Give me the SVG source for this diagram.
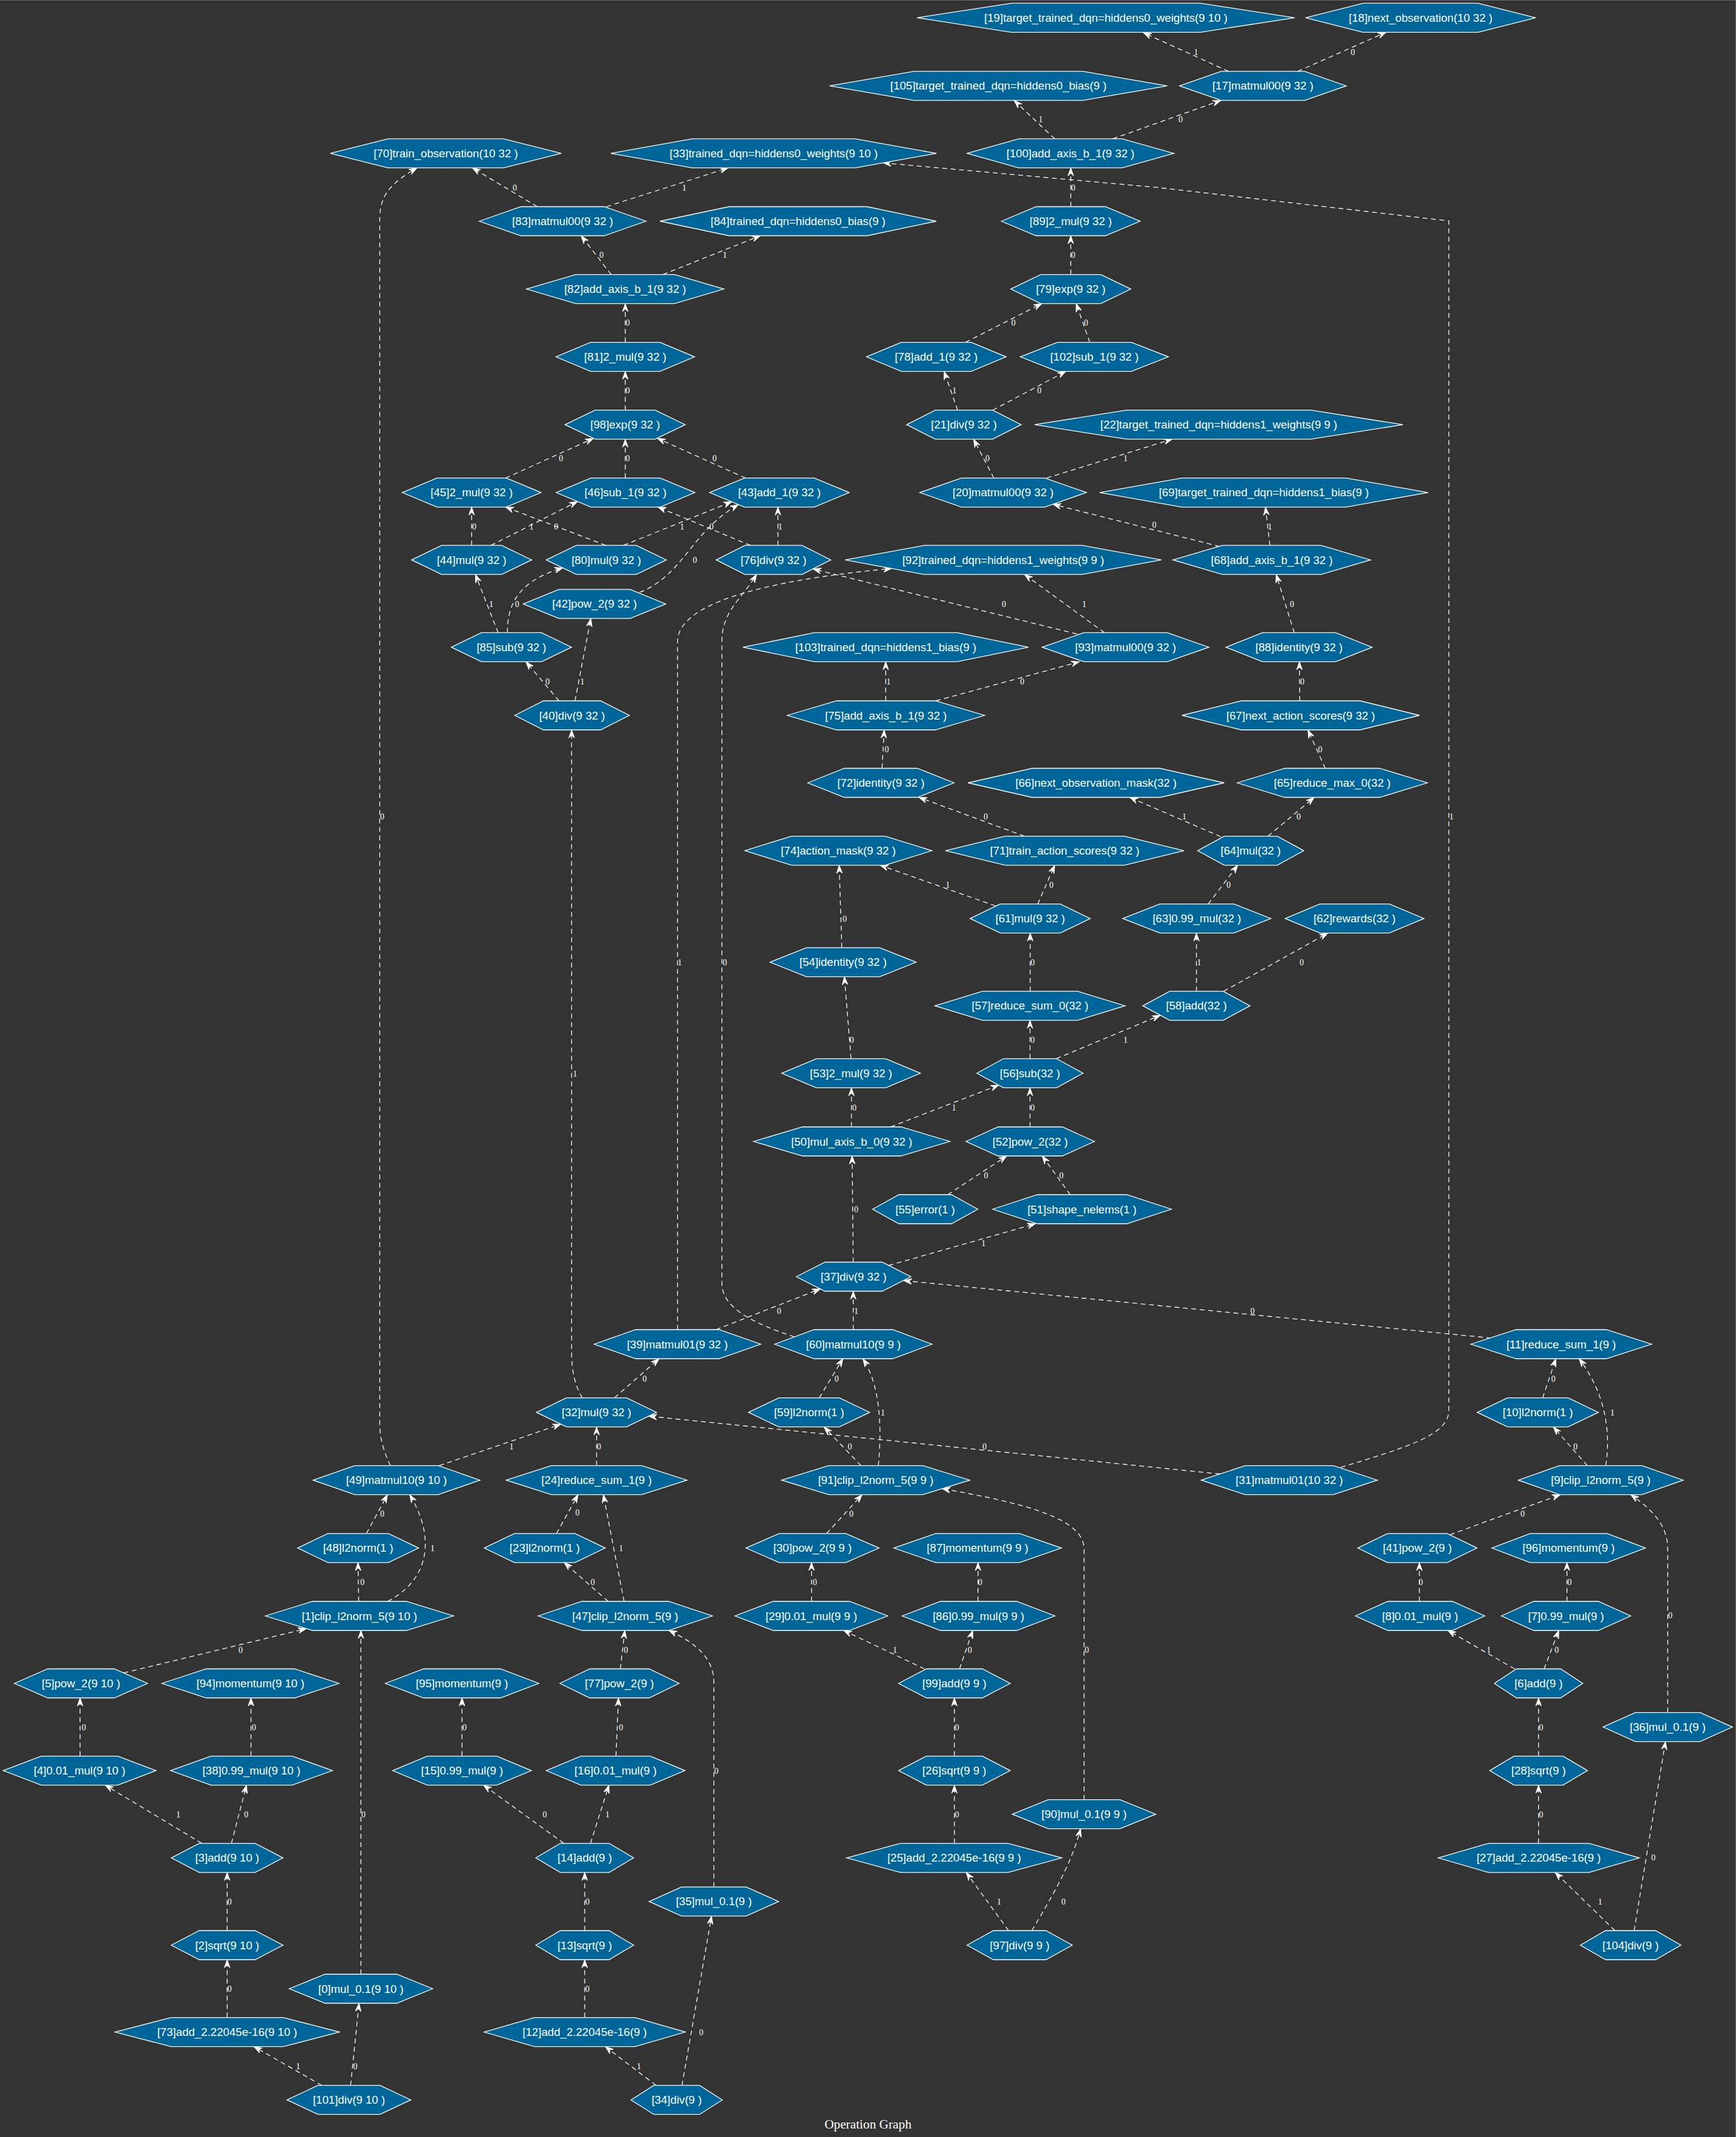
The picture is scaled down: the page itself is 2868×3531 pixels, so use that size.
<svg xmlns="http://www.w3.org/2000/svg" width="2868" height="3531" viewBox="0 0 2868 3531">
<style>
.n polygon{fill:#006699;stroke:#ffffff;stroke-width:1.3}
.n text{fill:#ffffff;font-family:"Liberation Sans",Arial,sans-serif;font-size:18.67px;text-anchor:middle}
.e path{fill:none;stroke:#ffffff;stroke-width:1.3;stroke-dasharray:8,6;marker-end:url(#a)}
.e text{fill:#ffffff;font-family:"Liberation Serif","Times New Roman",serif;font-size:14px;text-anchor:middle}
.t{fill:#ffffff;font-family:"Liberation Serif","Times New Roman",serif;font-size:21.3px;text-anchor:middle}
</style>
<defs>
<marker id="a" markerUnits="userSpaceOnUse" markerWidth="16" markerHeight="12" viewBox="-15 -6 16 12" refX="0" refY="0" orient="auto">
<path d="M0,0 L-13.3,-4.7 L-8.9,0 L-13.3,4.7 Z" fill="#ffffff" stroke="#ffffff" stroke-width="1" stroke-dasharray="none"/>
</marker>
</defs>
<rect x="0" y="0" width="2868" height="3531" fill="#333333"/>
<path d="M0,0.5 H2867.5 V3531" fill="none" stroke="#6a6a6a" stroke-width="1"/>
<g id="edges" class="e">
<path d="M2029.7,117.9 L1888.8,54"/><text x="1976" y="90.6">1</text>
<path d="M2143.7,117.9 L2290,53.3"/><text x="2235.1" y="90.6">0</text>
<path d="M1838.2,229.4 L2016.9,165.9"/><text x="1950.4" y="202.1">0</text>
<path d="M1742.5,229.4 L1675.4,165.9"/><text x="1719.3" y="202.1">1</text>
<path d="M1769,341.5 L1769,277.4"/><text x="1773" y="314.7">0</text>
<path d="M1769,453.6 L1769,389.5"/><text x="1773" y="426.2">0</text>
<path d="M1595,565.6 L1721.2,501.6"/><text x="1674.2" y="538.3">0</text>
<path d="M1800.4,565.6 L1777.9,501.6"/><text x="1794.3" y="538.3">0</text>
<path d="M1640,677.7 L1760.8,613.6"/><text x="1716.9" y="650.4">0</text>
<path d="M1582.1,677.7 L1559.6,613.6"/><text x="1576.7" y="650.4">1</text>
<path d="M1641.9,789.8 L1608.4,725.7"/><text x="1631.5" y="762.4">0</text>
<path d="M1729.1,789.8 L1936.4,725.7"/><text x="1859.6" y="762.4">1</text>
<path d="M2015,903 L1739.4,833.2"/><text x="1907" y="872.3">0</text>
<path d="M2098,901.2 L2090.6,837.8"/><text x="2098" y="875">1</text>
<path d="M2138.2,1045.4 L2108.3,949.2"/><text x="2134.5" y="1002.9">0</text>
<path d="M2147.3,1158 L2146.7,1093.4"/><text x="2151.6" y="1130.7">0</text>
<path d="M2189.4,1269.5 L2160.7,1206"/><text x="2180.9" y="1242.8">0</text>
<path d="M2094.9,1381.6 L2171.1,1317.5"/><text x="2145.5" y="1354.3">0</text>
<path d="M2016.9,1382.5 L1866.3,1317.5"/><text x="1956.5" y="1354.3">1</text>
<path d="M1996.1,1493.7 L2044.9,1429.6"/><text x="2029.7" y="1466.9">0</text>
<path d="M2021.7,1637.9 L2193.7,1541.7"/><text x="2150.4" y="1594.8">0</text>
<path d="M1976.6,1637.9 L1976.6,1541.7"/><text x="1980.9" y="1594.8">1</text>
<path d="M1701.6,1749.3 L1701.6,1685.9"/><text x="1705.9" y="1722.6">0</text>
<path d="M1745,1749.3 L1917,1677.6"/><text x="1859.6" y="1722.6">1</text>
<path d="M1702,1637.9 L1702,1541.7"/><text x="1705.9" y="1594.8">0</text>
<path d="M1714.4,1493.7 L1742.5,1429.6"/><text x="1737" y="1466.9">0</text>
<path d="M1644.9,1497 L1454.1,1429.6"/><text x="1565.7" y="1466.9">1</text>
<path d="M1692.5,1381.6 L1518.1,1317.5"/><text x="1628.5" y="1354.3">0</text>
<path d="M1457.2,1269.5 L1460.8,1206"/><text x="1465.1" y="1242.8">0</text>
<path d="M1546.2,1158 L1783.3,1093.4"/><text x="1688.8" y="1130.7">0</text>
<path d="M1463.3,1158 L1463.3,1093.4"/><text x="1468.1" y="1130.7">1</text>
<path d="M1779,1047.5 L1343.1,940.1"/><text x="1658.4" y="1002.9">0</text>
<path d="M1824.8,1045.4 L1692.5,949.2"/><text x="1791.3" y="1002.9">1</text>
<path d="M1240,901.2 L1087,837.8"/><text x="1175.5" y="875.1">0</text>
<path d="M1285.2,901.2 L1285.2,837.8"/><text x="1289" y="875.1">1</text>
<path d="M1033,789.8 L1033,725.7"/><text x="1037.1" y="762.4">0</text>
<path d="M1231.6,789.8 L1086,724.2"/><text x="1180.4" y="762.4">0</text>
<path d="M1033,677.7 L1033,613.6"/><text x="1037" y="650.4">0</text>
<path d="M1033,565.6 L1033,501.6"/><text x="1037" y="538.3">0</text>
<path d="M1009.7,453.6 L960,389.5"/><text x="993.8" y="426.2">0</text>
<path d="M1095,453.6 L1256,389.5"/><text x="1197.4" y="426.2">1</text>
<path d="M887.7,341.5 L780.4,277.4"/><text x="850.5" y="314.7">0</text>
<path d="M1001.7,341.5 L1202.9,277.4"/><text x="1130.4" y="314.7">1</text>
<path d="M1701.6,1862 L1701.6,1797.3"/><text x="1705.9" y="1834.6">0</text>
<path d="M1565.7,1974 L1663.2,1910"/><text x="1629.1" y="1947.3">0</text>
<path d="M1768.1,1974 L1721.8,1910"/><text x="1753.5" y="1947.3">0</text>
<path d="M1406.6,1862 L1406.6,1797.3"/><text x="1411.4" y="1834.6">0</text>
<path d="M1471.2,1862 L1650,1793"/><text x="1576" y="1834.6">1</text>
<path d="M1406,1749.3 L1395,1613.8"/><text x="1407.2" y="1722.6">0</text>
<path d="M1390.7,1565.8 L1386.4,1429.6"/><text x="1395.6" y="1523.2">0</text>
<path d="M1409.6,2085.5 L1407.8,1910"/><text x="1414.5" y="2003">0</text>
<path d="M1468.1,2091 L1710.8,2022"/><text x="1624.8" y="2058.8">1</text>
<path d="M1312.7,2209 C1240,2185 1192.6,2160 1192.6,2120 L1192.6,1060 C1192.6,1010 1225,990 1249.9,949.2"/><text x="1197.4" y="1594.8">0</text>
<path d="M1409.6,2197 L1409.6,2133.5"/><text x="1414.5" y="2170.8">1</text>
<path d="M1182.8,2197 L1355.3,2129.6"/><text x="1287" y="2170.8">0</text>
<path d="M1119.4,2197 L1119.4,1060 C1119.4,1000 1250,960 1473,939.3"/><text x="1123" y="1594.8">1</text>
<path d="M2463.8,2210.9 L1493,2116"/><text x="2069.3" y="2170.8">0</text>
<path d="M1015.1,2309.7 L1088.9,2245"/><text x="1065.1" y="2282.9">0</text>
<path d="M962,2309.7 C950,2290 944.4,2265 944.4,2235 L944.4,1206"/><text x="950" y="1779">1</text>
<path d="M923.6,1158 L868.8,1093.4"/><text x="904.8" y="1130.7">0</text>
<path d="M949.9,1158 L976.1,1021.9"/><text x="962" y="1130.7">1</text>
<path d="M838.3,1045.4 C838,1000 855,960 929.8,938.4"/><text x="854.2" y="1002.9">0</text>
<path d="M823,1045.4 L785.3,949.2"/><text x="811.5" y="1002.9">1</text>
<path d="M1056.6,978.7 C1130,950 1140,880 1220,833.7"/><text x="1148" y="930.2">0</text>
<path d="M779.2,901.2 L779.2,837.8"/><text x="783.4" y="875.1">0</text>
<path d="M811,901.2 L954,828.6"/><text x="878" y="875.1">1</text>
<path d="M1001,901.2 L835.3,837.8"/><text x="918.8" y="875.1">0</text>
<path d="M1030,901.2 L1209,829"/><text x="1126.7" y="875.1">1</text>
<path d="M835.3,789.8 L980.4,724.3"/><text x="926.7" y="762.4">0</text>
<path d="M985.6,2421.7 L985.6,2357.7"/><text x="989.5" y="2395">0</text>
<path d="M645,2421.7 C630,2390 627.4,2370 627.4,2350 L627.4,360 C627.4,320 650,300 688.9,277.4"/><text x="631.6" y="1354.3">0</text>
<path d="M725.5,2421.7 L926.7,2353.2"/><text x="845" y="2395">1</text>
<path d="M2015.6,2435.5 L1071.8,2340"/><text x="1626.6" y="2395">0</text>
<path d="M2215,2424.5 C2330,2390 2393.6,2370 2393.6,2330 L2393.6,365 L1912,309.7 L1459,269.1"/><text x="2397.9" y="1354.3">1</text>
<path d="M1353.5,2309.7 L1392.5,2245"/><text x="1382.2" y="2282.9">0</text>
<path d="M1422.4,2421.7 L1361.4,2357.7"/><text x="1404.1" y="2395">0</text>
<path d="M1451,2421.7 C1457,2360 1455,2290 1425.5,2245"/><text x="1458.4" y="2338.7">1</text>
<path d="M2548.5,2309.7 L2570.5,2245"/><text x="2566.2" y="2282.9">0</text>
<path d="M2622.3,2421.7 L2566.2,2357.7"/><text x="2602.8" y="2395">0</text>
<path d="M2652.8,2421.7 C2662,2360 2650,2300 2608.9,2245"/><text x="2663.7" y="2338.7">1</text>
<path d="M919.4,2533.8 L955,2469.7"/><text x="954" y="2504">0</text>
<path d="M1004.8,2646 L932,2581.8"/><text x="979.2" y="2618.6">0</text>
<path d="M1031,2646 L996.8,2469.7"/><text x="1026.1" y="2562.8">1</text>
<path d="M605.4,2533.8 L640.2,2469.7"/><text x="631.6" y="2506">0</text>
<path d="M592.6,2646 L591.4,2581.8"/><text x="598.7" y="2618.6">0</text>
<path d="M640.2,2646 C710,2610 720,2540 676.7,2469.7"/><text x="714.5" y="2562.8">1</text>
<path d="M1365.7,2533.8 L1424.2,2469.7"/><text x="1406.6" y="2506">0</text>
<path d="M1791,2973.7 L1791,2560 C1791,2510 1700,2485 1556.5,2459.8"/><text x="1795.5" y="2730.7">0</text>
<path d="M1340.7,2646 L1340.7,2581.8"/><text x="1346.2" y="2618.6">0</text>
<path d="M1585.2,2757.5 L1607.1,2694"/><text x="1602.3" y="2730.7">0</text>
<path d="M1527.3,2757.5 L1393.7,2694"/><text x="1478.5" y="2730.7">1</text>
<path d="M1615.7,2646 L1615.7,2581.8"/><text x="1619.3" y="2618.6">0</text>
<path d="M1576.7,2901.6 L1576.7,2805.5"/><text x="1580.9" y="2858.6">0</text>
<path d="M1576.7,3045.8 L1576.7,2949.6"/><text x="1580.9" y="3002.7">0</text>
<path d="M1704.7,3190 C1740,3130 1770,3080 1785.2,3021.7"/><text x="1757.1" y="3146.9">0</text>
<path d="M1666.3,3190 L1596.2,3093.8"/><text x="1650.4" y="3146.9">1</text>
<path d="M2395.5,2535.8 L2577.8,2469.7"/><text x="2515.6" y="2506">0</text>
<path d="M2755.2,2829.6 L2755.2,2560 C2755.2,2520 2730,2495 2694.2,2469.7"/><text x="2759.5" y="2674.4">0</text>
<path d="M2344.9,2646 L2344.9,2581.8"/><text x="2347.3" y="2618.6">0</text>
<path d="M2588.7,2646 L2588.7,2581.8"/><text x="2593" y="2618.6">0</text>
<path d="M2551,2757.5 L2575.3,2694"/><text x="2571.7" y="2730.7">0</text>
<path d="M2502.2,2757.5 L2391.8,2694"/><text x="2459.5" y="2730.7">1</text>
<path d="M2541.8,2901.6 L2541.8,2805.5"/><text x="2546" y="2858.6">0</text>
<path d="M2541.8,3045.8 L2541.8,2949.6"/><text x="2546" y="3002.7">0</text>
<path d="M2699.7,3190 L2751.5,2877.6"/><text x="2731.4" y="3074.2">0</text>
<path d="M2668,3190 L2569.2,3093.8"/><text x="2643.6" y="3146.9">1</text>
<path d="M204.2,2764.2 L506,2691"/><text x="397.5" y="2730.7">0</text>
<path d="M596.3,3262 L596.3,2694"/><text x="600.5" y="3002.7">0</text>
<path d="M132.3,2901.6 L132.3,2805.5"/><text x="138.4" y="2858.6">0</text>
<path d="M414.6,2901.6 L414.6,2805.5"/><text x="419.5" y="2858.6">0</text>
<path d="M382.3,3045.8 L407.3,2949.6"/><text x="406.7" y="3002.7">0</text>
<path d="M333.5,3045.8 L173.8,2949.6"/><text x="294.5" y="3002.7">1</text>
<path d="M375.3,3190 L375.3,3093.8"/><text x="379.2" y="3146.9">0</text>
<path d="M375.3,3333.6 L375.3,3238"/><text x="379.2" y="3291">0</text>
<path d="M579.2,3445.7 L593.2,3310"/><text x="587.1" y="3418.9">0</text>
<path d="M531.6,3445.7 L419.5,3381.6"/><text x="492.6" y="3418.9">1</text>
<path d="M1024.9,2757.5 L1032.2,2694"/><text x="1034" y="2730.7">0</text>
<path d="M1179.4,3117.9 L1179.4,2780 C1179.4,2740 1150,2715 1105,2694"/><text x="1183.4" y="2930.6">0</text>
<path d="M1017.6,2901.6 L1021.8,2805.5"/><text x="1026.1" y="2858.6">0</text>
<path d="M763.3,2901.6 L763.3,2805.5"/><text x="767.6" y="2858.6">0</text>
<path d="M931.6,3045.8 L798.7,2949.6"/><text x="899.9" y="3002.7">0</text>
<path d="M975.5,3045.8 L1006,2949.6"/><text x="1003.6" y="3002.7">1</text>
<path d="M966,3190 L966,3093.8"/><text x="970.6" y="3146.9">0</text>
<path d="M966,3333.6 L966,3238"/><text x="970.6" y="3291">0</text>
<path d="M1126.7,3445.7 L1175.5,3165.9"/><text x="1158.4" y="3362.6">0</text>
<path d="M1084,3445.7 L999.9,3381.6"/><text x="1055.4" y="3418.9">1</text>
</g>
<g id="n19" class="n" transform="translate(1827,29.3)"><polygon points="-312.1,0 -156,-24 156,-24 312.1,0 156,24 -156,24"/><text y="6.5">[19]target_trained_dqn=hiddens0_weights(9 10 )</text></g>
<g id="n18" class="n" transform="translate(2347,29.3)"><polygon points="-190.1,0 -95,-24 95,-24 190.1,0 95,24 -95,24"/><text y="6.5">[18]next_observation(10 32 )</text></g>
<g id="n105" class="n" transform="translate(1649.5,141.9)"><polygon points="-279,0 -139.5,-24 139.5,-24 279,0 139.5,24 -139.5,24"/><text y="6.5">[105]target_trained_dqn=hiddens0_bias(9 )</text></g>
<g id="n17" class="n" transform="translate(2086.4,141.9)"><polygon points="-137.7,0 -68.9,-24 68.9,-24 137.7,0 68.9,24 -68.9,24"/><text y="6.5">[17]matmul00(9 32 )</text></g>
<g id="n70" class="n" transform="translate(736.5,253.4)"><polygon points="-190.8,0 -95.4,-24 95.4,-24 190.8,0 95.4,24 -95.4,24"/><text y="6.5">[70]train_observation(10 32 )</text></g>
<g id="n33" class="n" transform="translate(1278.2,253.4)"><polygon points="-269,0 -134.5,-24 134.5,-24 269,0 134.5,24 -134.5,24"/><text y="6.5">[33]trained_dqn=hiddens0_weights(9 10 )</text></g>
<g id="n100" class="n" transform="translate(1768.5,253.4)"><polygon points="-170.8,0 -85.4,-24 85.4,-24 170.8,0 85.4,24 -85.4,24"/><text y="6.5">[100]add_axis_b_1(9 32 )</text></g>
<g id="n83" class="n" transform="translate(929.5,365.5)"><polygon points="-137.7,0 -68.9,-24 68.9,-24 137.7,0 68.9,24 -68.9,24"/><text y="6.5">[83]matmul00(9 32 )</text></g>
<g id="n84" class="n" transform="translate(1318.5,365.5)"><polygon points="-228.2,0 -114.1,-24 114.1,-24 228.2,0 114.1,24 -114.1,24"/><text y="6.5">[84]trained_dqn=hiddens0_bias(9 )</text></g>
<g id="n89" class="n" transform="translate(1769,365.5)"><polygon points="-114.6,0 -57.3,-24 57.3,-24 114.6,0 57.3,24 -57.3,24"/><text y="6.5">[89]2_mul(9 32 )</text></g>
<g id="n82" class="n" transform="translate(1032.8,477.6)"><polygon points="-163.1,0 -81.6,-24 81.6,-24 163.1,0 81.6,24 -81.6,24"/><text y="6.5">[82]add_axis_b_1(9 32 )</text></g>
<g id="n79" class="n" transform="translate(1769,477.6)"><polygon points="-99.2,0 -49.6,-24 49.6,-24 99.2,0 49.6,24 -49.6,24"/><text y="6.5">[79]exp(9 32 )</text></g>
<g id="n81" class="n" transform="translate(1033,589.6)"><polygon points="-114.6,0 -57.3,-24 57.3,-24 114.6,0 57.3,24 -57.3,24"/><text y="6.5">[81]2_mul(9 32 )</text></g>
<g id="n78" class="n" transform="translate(1546.8,589.6)"><polygon points="-115.4,0 -57.7,-24 57.7,-24 115.4,0 57.7,24 -57.7,24"/><text y="6.5">[78]add_1(9 32 )</text></g>
<g id="n102" class="n" transform="translate(1808,589.6)"><polygon points="-122.3,0 -61.2,-24 61.2,-24 122.3,0 61.2,24 -61.2,24"/><text y="6.5">[102]sub_1(9 32 )</text></g>
<g id="n98" class="n" transform="translate(1032.8,701.7)"><polygon points="-99.2,0 -49.6,-24 49.6,-24 99.2,0 49.6,24 -49.6,24"/><text y="6.5">[98]exp(9 32 )</text></g>
<g id="n21" class="n" transform="translate(1592.5,701.7)"><polygon points="-94.6,0 -47.3,-24 47.3,-24 94.6,0 47.3,24 -47.3,24"/><text y="6.5">[21]div(9 32 )</text></g>
<g id="n22" class="n" transform="translate(2013.5,701.7)"><polygon points="-304.3,0 -152.2,-24 152.2,-24 304.3,0 152.2,24 -152.2,24"/><text y="6.5">[22]target_trained_dqn=hiddens1_weights(9 9 )</text></g>
<g id="n45" class="n" transform="translate(779.2,813.8)"><polygon points="-114.6,0 -57.3,-24 57.3,-24 114.6,0 57.3,24 -57.3,24"/><text y="6.5">[45]2_mul(9 32 )</text></g>
<g id="n46" class="n" transform="translate(1033.4,813.8)"><polygon points="-114.6,0 -57.3,-24 57.3,-24 114.6,0 57.3,24 -57.3,24"/><text y="6.5">[46]sub_1(9 32 )</text></g>
<g id="n43" class="n" transform="translate(1287.6,813.8)"><polygon points="-115.4,0 -57.7,-24 57.7,-24 115.4,0 57.7,24 -57.7,24"/><text y="6.5">[43]add_1(9 32 )</text></g>
<g id="n20" class="n" transform="translate(1657.2,813.8)"><polygon points="-137.7,0 -68.9,-24 68.9,-24 137.7,0 68.9,24 -68.9,24"/><text y="6.5">[20]matmul00(9 32 )</text></g>
<g id="n69" class="n" transform="translate(2088,813.8)"><polygon points="-271.3,0 -135.6,-24 135.6,-24 271.3,0 135.6,24 -135.6,24"/><text y="6.5">[69]target_trained_dqn=hiddens1_bias(9 )</text></g>
<g id="n44" class="n" transform="translate(779.2,925.2)"><polygon points="-99.2,0 -49.6,-24 49.6,-24 99.2,0 49.6,24 -49.6,24"/><text y="6.5">[44]mul(9 32 )</text></g>
<g id="n80" class="n" transform="translate(1001.7,925.2)"><polygon points="-99.2,0 -49.6,-24 49.6,-24 99.2,0 49.6,24 -49.6,24"/><text y="6.5">[80]mul(9 32 )</text></g>
<g id="n76" class="n" transform="translate(1277.9,925.2)"><polygon points="-94.6,0 -47.3,-24 47.3,-24 94.6,0 47.3,24 -47.3,24"/><text y="6.5">[76]div(9 32 )</text></g>
<g id="n92" class="n" transform="translate(1657.4,925.2)"><polygon points="-261.2,0 -130.6,-24 130.6,-24 261.2,0 130.6,24 -130.6,24"/><text y="6.5">[92]trained_dqn=hiddens1_weights(9 9 )</text></g>
<g id="n68" class="n" transform="translate(2101,925.2)"><polygon points="-163.1,0 -81.6,-24 81.6,-24 163.1,0 81.6,24 -81.6,24"/><text y="6.5">[68]add_axis_b_1(9 32 )</text></g>
<g id="n42" class="n" transform="translate(982.2,997.9)"><polygon points="-117.7,0 -58.9,-24 58.9,-24 117.7,0 58.9,24 -58.9,24"/><text y="6.5">[42]pow_2(9 32 )</text></g>
<g id="n85" class="n" transform="translate(845,1069.4)"><polygon points="-99.2,0 -49.6,-24 49.6,-24 99.2,0 49.6,24 -49.6,24"/><text y="6.5">[85]sub(9 32 )</text></g>
<g id="n103" class="n" transform="translate(1463.3,1069.4)"><polygon points="-235.9,0 -117.9,-24 117.9,-24 235.9,0 117.9,24 -117.9,24"/><text y="6.5">[103]trained_dqn=hiddens1_bias(9 )</text></g>
<g id="n93" class="n" transform="translate(1859.5,1069.4)"><polygon points="-137.7,0 -68.9,-24 68.9,-24 137.7,0 68.9,24 -68.9,24"/><text y="6.5">[93]matmul00(9 32 )</text></g>
<g id="n88" class="n" transform="translate(2146.1,1069.4)"><polygon points="-120.8,0 -60.4,-24 60.4,-24 120.8,0 60.4,24 -60.4,24"/><text y="6.5">[88]identity(9 32 )</text></g>
<g id="n40" class="n" transform="translate(945.1,1182)"><polygon points="-94.6,0 -47.3,-24 47.3,-24 94.6,0 47.3,24 -47.3,24"/><text y="6.5">[40]div(9 32 )</text></g>
<g id="n75" class="n" transform="translate(1463.6,1182)"><polygon points="-163.1,0 -81.6,-24 81.6,-24 163.1,0 81.6,24 -81.6,24"/><text y="6.5">[75]add_axis_b_1(9 32 )</text></g>
<g id="n67" class="n" transform="translate(2148.9,1182)"><polygon points="-196.2,0 -98.1,-24 98.1,-24 196.2,0 98.1,24 -98.1,24"/><text y="6.5">[67]next_action_scores(9 32 )</text></g>
<g id="n72" class="n" transform="translate(1455.3,1293.5)"><polygon points="-120.8,0 -60.4,-24 60.4,-24 120.8,0 60.4,24 -60.4,24"/><text y="6.5">[72]identity(9 32 )</text></g>
<g id="n66" class="n" transform="translate(1810.8,1293.5)"><polygon points="-211.6,0 -105.8,-24 105.8,-24 211.6,0 105.8,24 -105.8,24"/><text y="6.5">[66]next_observation_mask(32 )</text></g>
<g id="n65" class="n" transform="translate(2201,1293.5)"><polygon points="-157,0 -78.5,-24 78.5,-24 157,0 78.5,24 -78.5,24"/><text y="6.5">[65]reduce_max_0(32 )</text></g>
<g id="n74" class="n" transform="translate(1385,1405.6)"><polygon points="-154.6,0 -77.3,-24 77.3,-24 154.6,0 77.3,24 -77.3,24"/><text y="6.5">[74]action_mask(9 32 )</text></g>
<g id="n71" class="n" transform="translate(1759,1405.6)"><polygon points="-197,0 -98.5,-24 98.5,-24 197,0 98.5,24 -98.5,24"/><text y="6.5">[71]train_action_scores(9 32 )</text></g>
<g id="n64" class="n" transform="translate(2066.3,1405.6)"><polygon points="-87.7,0 -43.8,-24 43.8,-24 87.7,0 43.8,24 -43.8,24"/><text y="6.5">[64]mul(32 )</text></g>
<g id="n61" class="n" transform="translate(1702,1517.7)"><polygon points="-99.2,0 -49.6,-24 49.6,-24 99.2,0 49.6,24 -49.6,24"/><text y="6.5">[61]mul(9 32 )</text></g>
<g id="n63" class="n" transform="translate(1977.3,1517.7)"><polygon points="-122.3,0 -61.2,-24 61.2,-24 122.3,0 61.2,24 -61.2,24"/><text y="6.5">[63]0.99_mul(32 )</text></g>
<g id="n62" class="n" transform="translate(2237.9,1517.7)"><polygon points="-114.6,0 -57.3,-24 57.3,-24 114.6,0 57.3,24 -57.3,24"/><text y="6.5">[62]rewards(32 )</text></g>
<g id="n54" class="n" transform="translate(1392.8,1589.8)"><polygon points="-120.8,0 -60.4,-24 60.4,-24 120.8,0 60.4,24 -60.4,24"/><text y="6.5">[54]identity(9 32 )</text></g>
<g id="n57" class="n" transform="translate(1701.7,1661.9)"><polygon points="-157,0 -78.5,-24 78.5,-24 157,0 78.5,24 -78.5,24"/><text y="6.5">[57]reduce_sum_0(32 )</text></g>
<g id="n58" class="n" transform="translate(1976.6,1661.9)"><polygon points="-88.5,0 -44.2,-24 44.2,-24 88.5,0 44.2,24 -44.2,24"/><text y="6.5">[58]add(32 )</text></g>
<g id="n53" class="n" transform="translate(1406,1773.3)"><polygon points="-114.6,0 -57.3,-24 57.3,-24 114.6,0 57.3,24 -57.3,24"/><text y="6.5">[53]2_mul(9 32 )</text></g>
<g id="n56" class="n" transform="translate(1701.6,1773.3)"><polygon points="-87.7,0 -43.9,-24 43.9,-24 87.7,0 43.9,24 -43.9,24"/><text y="6.5">[56]sub(32 )</text></g>
<g id="n50" class="n" transform="translate(1407.1,1886)"><polygon points="-162.3,0 -81.2,-24 81.2,-24 162.3,0 81.2,24 -81.2,24"/><text y="6.5">[50]mul_axis_b_0(9 32 )</text></g>
<g id="n52" class="n" transform="translate(1702,1886)"><polygon points="-106.2,0 -53.1,-24 53.1,-24 106.2,0 53.1,24 -53.1,24"/><text y="6.5">[52]pow_2(32 )</text></g>
<g id="n55" class="n" transform="translate(1528.5,1998)"><polygon points="-86.9,0 -43.5,-24 43.5,-24 86.9,0 43.5,24 -43.5,24"/><text y="6.5">[55]error(1 )</text></g>
<g id="n51" class="n" transform="translate(1787.6,1998)"><polygon points="-147.7,0 -73.9,-24 73.9,-24 147.7,0 73.9,24 -73.9,24"/><text y="6.5">[51]shape_nelems(1 )</text></g>
<g id="n37" class="n" transform="translate(1410.2,2109.5)"><polygon points="-94.6,0 -47.3,-24 47.3,-24 94.6,0 47.3,24 -47.3,24"/><text y="6.5">[37]div(9 32 )</text></g>
<g id="n39" class="n" transform="translate(1119.1,2221)"><polygon points="-137.7,0 -68.9,-24 68.9,-24 137.7,0 68.9,24 -68.9,24"/><text y="6.5">[39]matmul01(9 32 )</text></g>
<g id="n60" class="n" transform="translate(1409.9,2221)"><polygon points="-130,0 -65,-24 65,-24 130,0 65,24 -65,24"/><text y="6.5">[60]matmul10(9 9 )</text></g>
<g id="n11" class="n" transform="translate(2579.2,2221)"><polygon points="-149.3,0 -74.6,-24 74.6,-24 149.3,0 74.6,24 -74.6,24"/><text y="6.5">[11]reduce_sum_1(9 )</text></g>
<g id="n32" class="n" transform="translate(985.5,2333.7)"><polygon points="-99.2,0 -49.6,-24 49.6,-24 99.2,0 49.6,24 -49.6,24"/><text y="6.5">[32]mul(9 32 )</text></g>
<g id="n59" class="n" transform="translate(1336.7,2333.7)"><polygon points="-100,0 -50,-24 50,-24 100,0 50,24 -50,24"/><text y="6.5">[59]l2norm(1 )</text></g>
<g id="n10" class="n" transform="translate(2540.6,2333.7)"><polygon points="-100,0 -50,-24 50,-24 100,0 50,24 -50,24"/><text y="6.5">[10]l2norm(1 )</text></g>
<g id="n49" class="n" transform="translate(655.1,2445.7)"><polygon points="-137.7,0 -68.9,-24 68.9,-24 137.7,0 68.9,24 -68.9,24"/><text y="6.5">[49]matmul10(9 10 )</text></g>
<g id="n24" class="n" transform="translate(985.6,2445.7)"><polygon points="-149.3,0 -74.6,-24 74.6,-24 149.3,0 74.6,24 -74.6,24"/><text y="6.5">[24]reduce_sum_1(9 )</text></g>
<g id="n91" class="n" transform="translate(1446.8,2445.7)"><polygon points="-155.4,0 -77.7,-24 77.7,-24 155.4,0 77.7,24 -77.7,24"/><text y="6.5">[91]clip_l2norm_5(9 9 )</text></g>
<g id="n9" class="n" transform="translate(2644.6,2445.7)"><polygon points="-136.2,0 -68.1,-24 68.1,-24 136.2,0 68.1,24 -68.1,24"/><text y="6.5">[9]clip_l2norm_5(9 )</text></g>
<g id="n31" class="n" transform="translate(2130,2445.7)"><polygon points="-145.4,0 -72.7,-24 72.7,-24 145.4,0 72.7,24 -72.7,24"/><text y="6.5">[31]matmul01(10 32 )</text></g>
<g id="n48" class="n" transform="translate(591.7,2557.8)"><polygon points="-100,0 -50,-24 50,-24 100,0 50,24 -50,24"/><text y="6.5">[48]l2norm(1 )</text></g>
<g id="n23" class="n" transform="translate(899.9,2557.8)"><polygon points="-100,0 -50,-24 50,-24 100,0 50,24 -50,24"/><text y="6.5">[23]l2norm(1 )</text></g>
<g id="n30" class="n" transform="translate(1342.3,2557.8)"><polygon points="-110,0 -55,-24 55,-24 110,0 55,24 -55,24"/><text y="6.5">[30]pow_2(9 9 )</text></g>
<g id="n87" class="n" transform="translate(1615.1,2557.8)"><polygon points="-138.5,0 -69.2,-24 69.2,-24 138.5,0 69.2,24 -69.2,24"/><text y="6.5">[87]momentum(9 9 )</text></g>
<g id="n41" class="n" transform="translate(2341.6,2557.8)"><polygon points="-98.5,0 -49.2,-24 49.2,-24 98.5,0 49.2,24 -49.2,24"/><text y="6.5">[41]pow_2(9 )</text></g>
<g id="n96" class="n" transform="translate(2591.5,2557.8)"><polygon points="-126.9,0 -63.5,-24 63.5,-24 126.9,0 63.5,24 -63.5,24"/><text y="6.5">[96]momentum(9 )</text></g>
<g id="n1" class="n" transform="translate(593.8,2670)"><polygon points="-155.4,0 -77.7,-24 77.7,-24 155.4,0 77.7,24 -77.7,24"/><text y="6.5">[1]clip_l2norm_5(9 10 )</text></g>
<g id="n47" class="n" transform="translate(1032.9,2670)"><polygon points="-143.9,0 -71.9,-24 71.9,-24 143.9,0 71.9,24 -71.9,24"/><text y="6.5">[47]clip_l2norm_5(9 )</text></g>
<g id="n29" class="n" transform="translate(1340.4,2670)"><polygon points="-126.2,0 -63.1,-24 63.1,-24 126.2,0 63.1,24 -63.1,24"/><text y="6.5">[29]0.01_mul(9 9 )</text></g>
<g id="n86" class="n" transform="translate(1616.6,2670)"><polygon points="-126.2,0 -63.1,-24 63.1,-24 126.2,0 63.1,24 -63.1,24"/><text y="6.5">[86]0.99_mul(9 9 )</text></g>
<g id="n8" class="n" transform="translate(2346.1,2670)"><polygon points="-106.9,0 -53.5,-24 53.5,-24 106.9,0 53.5,24 -53.5,24"/><text y="6.5">[8]0.01_mul(9 )</text></g>
<g id="n7" class="n" transform="translate(2587.2,2670)"><polygon points="-106.9,0 -53.5,-24 53.5,-24 106.9,0 53.5,24 -53.5,24"/><text y="6.5">[7]0.99_mul(9 )</text></g>
<g id="n5" class="n" transform="translate(133.8,2781.5)"><polygon points="-110,0 -55,-24 55,-24 110,0 55,24 -55,24"/><text y="6.5">[5]pow_2(9 10 )</text></g>
<g id="n94" class="n" transform="translate(413.7,2781.5)"><polygon points="-146.2,0 -73.1,-24 73.1,-24 146.2,0 73.1,24 -73.1,24"/><text y="6.5">[94]momentum(9 10 )</text></g>
<g id="n95" class="n" transform="translate(763.3,2781.5)"><polygon points="-126.9,0 -63.5,-24 63.5,-24 126.9,0 63.5,24 -63.5,24"/><text y="6.5">[95]momentum(9 )</text></g>
<g id="n77" class="n" transform="translate(1023.4,2781.5)"><polygon points="-98.5,0 -49.2,-24 49.2,-24 98.5,0 49.2,24 -49.2,24"/><text y="6.5">[77]pow_2(9 )</text></g>
<g id="n99" class="n" transform="translate(1576.7,2781.5)"><polygon points="-92.3,0 -46.2,-24 46.2,-24 92.3,0 46.2,24 -46.2,24"/><text y="6.5">[99]add(9 9 )</text></g>
<g id="n6" class="n" transform="translate(2541.8,2781.5)"><polygon points="-73.1,0 -36.5,-24 36.5,-24 73.1,0 36.5,24 -36.5,24"/><text y="6.5">[6]add(9 )</text></g>
<g id="n36" class="n" transform="translate(2755.2,2853.6)"><polygon points="-106.9,0 -53.5,-24 53.5,-24 106.9,0 53.5,24 -53.5,24"/><text y="6.5">[36]mul_0.1(9 )</text></g>
<g id="n4" class="n" transform="translate(131.4,2925.6)"><polygon points="-126.2,0 -63.1,-24 63.1,-24 126.2,0 63.1,24 -63.1,24"/><text y="6.5">[4]0.01_mul(9 10 )</text></g>
<g id="n38" class="n" transform="translate(415.5,2925.6)"><polygon points="-133.9,0 -66.9,-24 66.9,-24 133.9,0 66.9,24 -66.9,24"/><text y="6.5">[38]0.99_mul(9 10 )</text></g>
<g id="n15" class="n" transform="translate(763.3,2925.6)"><polygon points="-114.6,0 -57.3,-24 57.3,-24 114.6,0 57.3,24 -57.3,24"/><text y="6.5">[15]0.99_mul(9 )</text></g>
<g id="n16" class="n" transform="translate(1017,2925.6)"><polygon points="-114.6,0 -57.3,-24 57.3,-24 114.6,0 57.3,24 -57.3,24"/><text y="6.5">[16]0.01_mul(9 )</text></g>
<g id="n26" class="n" transform="translate(1576.7,2925.6)"><polygon points="-92.3,0 -46.2,-24 46.2,-24 92.3,0 46.2,24 -46.2,24"/><text y="6.5">[26]sqrt(9 9 )</text></g>
<g id="n28" class="n" transform="translate(2541.8,2925.6)"><polygon points="-80.8,0 -40.4,-24 40.4,-24 80.8,0 40.4,24 -40.4,24"/><text y="6.5">[28]sqrt(9 )</text></g>
<g id="n90" class="n" transform="translate(1791,2997.7)"><polygon points="-118.5,0 -59.2,-24 59.2,-24 118.5,0 59.2,24 -59.2,24"/><text y="6.5">[90]mul_0.1(9 9 )</text></g>
<g id="n3" class="n" transform="translate(375.3,3069.8)"><polygon points="-92.3,0 -46.2,-24 46.2,-24 92.3,0 46.2,24 -46.2,24"/><text y="6.5">[3]add(9 10 )</text></g>
<g id="n14" class="n" transform="translate(966,3069.8)"><polygon points="-80.8,0 -40.4,-24 40.4,-24 80.8,0 40.4,24 -40.4,24"/><text y="6.5">[14]add(9 )</text></g>
<g id="n25" class="n" transform="translate(1576.4,3069.8)"><polygon points="-177.8,0 -88.9,-24 88.9,-24 177.8,0 88.9,24 -88.9,24"/><text y="6.5">[25]add_2.22045e-16(9 9 )</text></g>
<g id="n27" class="n" transform="translate(2542.1,3069.8)"><polygon points="-166.2,0 -83.1,-24 83.1,-24 166.2,0 83.1,24 -83.1,24"/><text y="6.5">[27]add_2.22045e-16(9 )</text></g>
<g id="n35" class="n" transform="translate(1179.4,3141.9)"><polygon points="-106.9,0 -53.5,-24 53.5,-24 106.9,0 53.5,24 -53.5,24"/><text y="6.5">[35]mul_0.1(9 )</text></g>
<g id="n2" class="n" transform="translate(375.3,3214)"><polygon points="-92.3,0 -46.2,-24 46.2,-24 92.3,0 46.2,24 -46.2,24"/><text y="6.5">[2]sqrt(9 10 )</text></g>
<g id="n13" class="n" transform="translate(966,3214)"><polygon points="-80.8,0 -40.4,-24 40.4,-24 80.8,0 40.4,24 -40.4,24"/><text y="6.5">[13]sqrt(9 )</text></g>
<g id="n97" class="n" transform="translate(1684.6,3214)"><polygon points="-86.9,0 -43.5,-24 43.5,-24 86.9,0 43.5,24 -43.5,24"/><text y="6.5">[97]div(9 9 )</text></g>
<g id="n104" class="n" transform="translate(2693.9,3214)"><polygon points="-83.1,0 -41.5,-24 41.5,-24 83.1,0 41.5,24 -41.5,24"/><text y="6.5">[104]div(9 )</text></g>
<g id="n0" class="n" transform="translate(596.3,3286)"><polygon points="-118.5,0 -59.2,-24 59.2,-24 118.5,0 59.2,24 -59.2,24"/><text y="6.5">[0]mul_0.1(9 10 )</text></g>
<g id="n73" class="n" transform="translate(375.3,3357.6)"><polygon points="-185.5,0 -92.7,-24 92.7,-24 185.5,0 92.7,24 -92.7,24"/><text y="6.5">[73]add_2.22045e-16(9 10 )</text></g>
<g id="n12" class="n" transform="translate(966,3357.6)"><polygon points="-166.2,0 -83.1,-24 83.1,-24 166.2,0 83.1,24 -83.1,24"/><text y="6.5">[12]add_2.22045e-16(9 )</text></g>
<g id="n101" class="n" transform="translate(576.5,3469.7)"><polygon points="-102.3,0 -51.2,-24 51.2,-24 102.3,0 51.2,24 -51.2,24"/><text y="6.5">[101]div(9 10 )</text></g>
<g id="n34" class="n" transform="translate(1117.9,3469.7)"><polygon points="-75.4,0 -37.7,-24 37.7,-24 75.4,0 37.7,24 -37.7,24"/><text y="6.5">[34]div(9 )</text></g>
<text class="t" x="1434" y="3517">Operation Graph</text>
</svg>
